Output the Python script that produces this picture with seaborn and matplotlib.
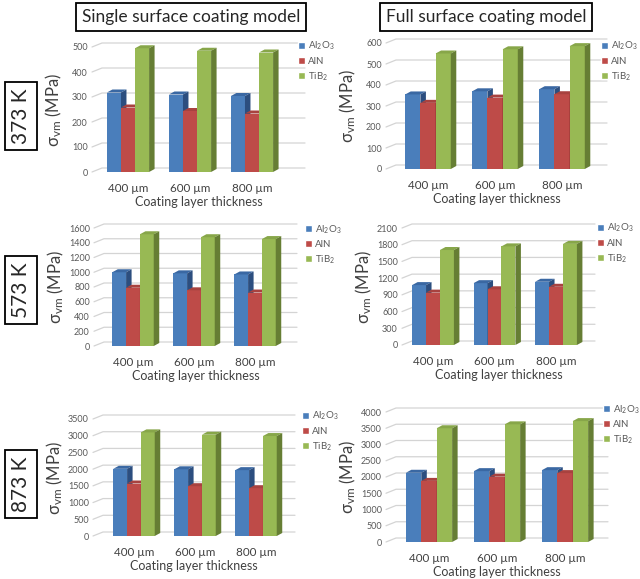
import numpy as np
import pandas as pd
import seaborn as sns
import matplotlib.pyplot as plt
from matplotlib.patches import Polygon

thickness = ['400 µm', '600 µm', '800 µm']
materials = ['Al$_2$O$_3$', 'AlN', 'TiB$_2$']
temps = ['373 K', '573 K', '873 K']

# rows: Al2O3, AlN, TiB2 -- columns: 400, 600, 800 µm  (von Mises stress, MPa)
single_373 = [[318, 310, 304], [258, 244, 234], [495, 485, 478]]
single_573 = [[1000, 985, 970], [790, 755, 725], [1515, 1475, 1450]]
single_873 = [[2010, 1995, 1970], [1570, 1490, 1430], [3100, 3030, 2990]]
full_373 = [[355, 370, 380], [315, 340, 356], [550, 570, 585]]
full_573 = [[1075, 1110, 1135], [940, 1000, 1045], [1705, 1770, 1815]]
full_873 = [[2130, 2180, 2210], [1880, 2010, 2120], [3500, 3620, 3720]]

# y axis (max, step) per panel
single_axis = [(500, 100), (1600, 200), (3500, 500)]
full_axis = [(600, 100), (2100, 300), (4000, 500)]

W, H = 640, 579
front = ['#4A7EBB', '#BE4B48', '#98B954']
top = ['#3A68A3', '#A8423F', '#87A649']
side = ['#2C4E7F', '#8A302D', '#667E34']

# panel placement in pixels: tick-label right edge, top, bottom, grid right,
# first group centre, group spacing, legend (x, y)
geom = [
    [dict(lab=88, top=47, bot=172, right=305, c0=128, sp=62, leg=(298, 40)),
     dict(lab=382, top=43, bot=169, right=607, c0=428, sp=67, leg=(601, 40))],
    [dict(lab=90, top=228, bot=346, right=297, c0=133, sp=61, leg=(305, 223)),
     dict(lab=398, top=228, bot=345, right=595, c0=433, sp=61.5, leg=(597, 222))],
    [dict(lab=89, top=419, bot=536, right=295, c0=134, sp=61, leg=(302, 410)),
     dict(lab=382, top=412, bot=542, right=608, c0=429, sp=68, leg=(603, 403))],
]


def make_df(vals):
    rows = []
    for i, m in enumerate(materials):
        for j, t in enumerate(thickness):
            rows.append((t, m, vals[i][j]))
    return pd.DataFrame(rows, columns=['thickness', 'material', 'stress'])


def draw_panel(fig, g, vals, ymax, step):
    left = g['lab'] + 4
    ax = fig.add_axes([left / W, 1 - g['bot'] / H,
                       (g['right'] - left) / W, (g['bot'] - g['top']) / H])
    df = make_df(vals)
    sns.barplot(data=df, x='thickness', y='stress', hue='material',
                order=thickness, hue_order=materials, palette=front,
                width=0.68, gap=0, saturation=1, ax=ax, legend=True)
    x0 = (left - g['c0']) / g['sp']
    x1 = (g['right'] - g['c0']) / g['sp']
    ax.set_xlim(x0, x1)
    ax.set_ylim(0, ymax)
    hpx = g['bot'] - g['top']
    ddx = 5.5 / g['sp']
    ddy = 3 * ymax / hpx
    gx = 10 / g['sp']
    gy = 4 * ymax / hpx

    ticks = np.arange(0, ymax + 1, step)
    for v in ticks:
        ax.plot([x0, x0 + gx, x1], [v, v + gy, v + gy], color='#D4D4D4',
                lw=0.9, clip_on=False, zorder=1)

    for k, cont in enumerate(ax.containers):
        for bar in cont:
            bx, bw, bh = bar.get_x(), bar.get_width(), bar.get_height()
            bar.set_zorder(3 + k)
            bar.set_edgecolor('none')
            tp = Polygon([(bx, bh), (bx + bw, bh), (bx + bw + ddx, bh + ddy),
                          (bx + ddx, bh + ddy)], closed=True, fc=top[k],
                         ec='none', zorder=3 + k, clip_on=False)
            sd = Polygon([(bx + bw, 0), (bx + bw, bh), (bx + bw + ddx, bh + ddy),
                          (bx + bw + ddx, ddy)], closed=True, fc=side[k],
                         ec='none', zorder=3 + k, clip_on=False)
            ax.add_patch(tp)
            ax.add_patch(sd)

    ax.set_yticks(ticks)
    sns.despine(ax=ax, left=True, bottom=True)
    ax.tick_params(axis='y', length=0, pad=3, labelsize=6.5, labelcolor='#595959')
    ax.tick_params(axis='x', length=0, pad=8, labelsize=8.4, labelcolor='#404040')
    ax.set_xlabel('Coating layer thickness', fontsize=9, color='#404040', labelpad=1.5)
    ax.set_ylabel(r'$\mathregular{\sigma_{vm}}$ (MPa)', fontsize=12, color='#404040')
    ax.yaxis.set_label_coords(-28 / (g['right'] - left), 0.5)

    leg = ax.get_legend()
    handles = leg.legend_handles
    labels = [t.get_text() for t in leg.get_texts()]
    lx, ly = g['leg']
    lg = ax.legend(handles, labels, loc='upper left',
                   bbox_to_anchor=(lx / W, 1 - ly / H),
                   bbox_transform=fig.transFigure, frameon=False,
                   fontsize=7, handlelength=0.75, handleheight=0.75,
                   handletextpad=0.3, labelspacing=0.45, borderpad=0,
                   borderaxespad=0)
    for t in lg.get_texts():
        t.set_color('#595959')
    return ax


def main():
    sns.set_style('white')
    plt.rcParams['font.family'] = ['Lato', 'DejaVu Sans']
    plt.rcParams['mathtext.fontset'] = 'custom'
    plt.rcParams['mathtext.rm'] = 'Lato'
    plt.rcParams['mathtext.it'] = 'Lato:italic'
    plt.rcParams['mathtext.bf'] = 'Lato:bold'

    fig = plt.figure(figsize=(W / 100, H / 100), dpi=100)
    singles = [single_373, single_573, single_873]
    fulls = [full_373, full_573, full_873]
    for r in range(3):
        draw_panel(fig, geom[r][0], singles[r], *single_axis[r])
        draw_panel(fig, geom[r][1], fulls[r], *full_axis[r])

    box = dict(boxstyle='square,pad=0.35', fc='white', ec='black', lw=1.3)
    fig.text(191 / W, 1 - 17 / H, 'Single surface coating model', fontsize=12.5,
             ha='center', va='center', bbox=box)
    fig.text(486 / W, 1 - 17 / H, 'Full surface coating model', fontsize=12.5,
             ha='center', va='center', bbox=box)
    rbox = dict(boxstyle='square,pad=0.3', fc='white', ec='black', lw=1.3)
    for y, t in zip([116, 290, 484], temps):
        fig.text(21 / W, 1 - y / H, t, fontsize=15, rotation=90,
                 ha='center', va='center', bbox=rbox)

    fig.savefig('out.png', dpi=100)


if __name__ == '__main__':
    main()
